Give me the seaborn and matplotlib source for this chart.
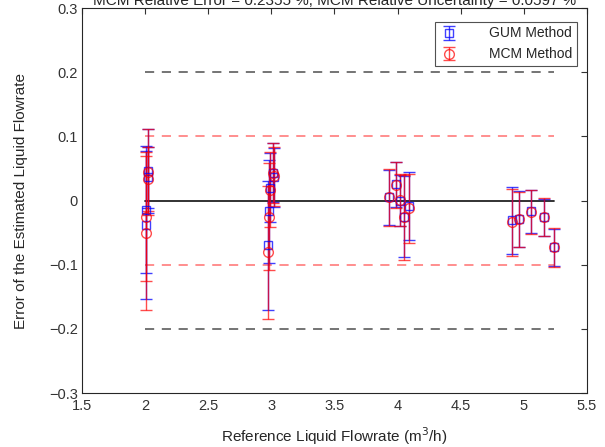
import numpy as np
import pandas as pd
import matplotlib
matplotlib.use("Agg")
import matplotlib.pyplot as plt
import seaborn as sns

# ---- data ----
ref_flow = [2.02, 2.02, 2.01, 2.01,
            2.97, 2.98, 2.99, 3.01, 3.02,
            3.93, 3.99, 4.02, 4.05, 4.09,
            4.91, 4.96, 5.06, 5.16, 5.24]
gum_err = [0.046, 0.036, -0.014, -0.038,
           -0.070, -0.017, 0.020, 0.043, 0.036,
           0.005, 0.025, 0.000, -0.025, -0.009,
           -0.031, -0.029, -0.017, -0.026, -0.073]
gum_unc = [0.065, 0.047, 0.099, 0.115,
           0.100, 0.080, 0.054, 0.046, 0.046,
           0.043, 0.035, 0.040, 0.063, 0.053,
           0.052, 0.044, 0.033, 0.029, 0.029]
mcm_err = [0.044, 0.034, -0.025, -0.050,
           -0.081, -0.025, 0.017, 0.043, 0.038,
           0.005, 0.024, 0.001, -0.026, -0.012,
           -0.034, -0.029, -0.018, -0.026, -0.073]
mcm_unc = [0.067, 0.050, 0.101, 0.120,
           0.103, 0.083, 0.058, 0.047, 0.046,
           0.044, 0.036, 0.041, 0.066, 0.054,
           0.052, 0.043, 0.034, 0.030, 0.030]
line_x = [2.0, 5.24]
zero_line = [0.0, 0.0]
inner_limit = 0.1
outer_limit = 0.2
title_text = "MCM Relative Error = 0.2355 %, MCM Relative Uncertainty = 0.0597 %"

sns.set_theme(style="white")
plt.rcParams['font.family'] = ['Liberation Sans', 'DejaVu Sans']
plt.rcParams['axes.unicode_minus'] = True

fig = plt.figure(figsize=(6.05, 4.47), dpi=100)
ax = fig.add_axes([0.1355, 0.1208, 0.8345, 0.8612])

df_lines = pd.DataFrame({"x": line_x, "y": zero_line})
sns.lineplot(data=df_lines, x="x", y="y", ax=ax, color="#222222", lw=1.3)
for s in (1, -1):
    sns.lineplot(x=line_x, y=[s * inner_limit] * 2, ax=ax, color="#ff4040",
                 alpha=0.75, lw=1.1, linestyle=(0, (6, 5)))
    sns.lineplot(x=line_x, y=[s * outer_limit] * 2, ax=ax, color="#222222",
                 alpha=0.8, lw=1.1, linestyle=(0, (6, 5)))

g = ax.errorbar(ref_flow, gum_err, yerr=gum_unc, fmt='s', color='blue',
                mfc='none', mec='blue', ms=5.5, mew=1.0, capsize=4.3,
                elinewidth=1.0, alpha=0.75, label='GUM Method')
m = ax.errorbar(ref_flow, mcm_err, yerr=mcm_unc, fmt='o', color='red',
                mfc='none', mec='red', ms=7, mew=1.0, capsize=4.3,
                elinewidth=1.0, alpha=0.7, label='MCM Method')

ax.set_xlim(1.5, 5.5)
ax.set_ylim(-0.3, 0.3)
ax.set_xticks(np.arange(1.5, 5.51, 0.5))
ax.set_yticks(np.arange(-0.3, 0.31, 0.1))
ax.set_xticklabels(["1.5", "2", "2.5", "3", "3.5", "4", "4.5", "5", "5.5"])
ax.set_yticklabels(["\u22120.3", "\u22120.2", "\u22120.1", "0", "0.1", "0.2", "0.3"])
ax.tick_params(direction='in', length=4, width=0.8, top=True, right=True,
               colors='#333333', labelsize=10.5, pad=3)
ax.tick_params(axis='x', pad=4)
for sp in ax.spines.values():
    sp.set_color('#262626')
    sp.set_linewidth(0.8)

ax.set_xlabel("Reference Liquid Flowrate (m$^3$/h)", fontsize=11, color='#262626', labelpad=9)
ax.set_ylabel("Error of the Estimated Liquid Flowrate", fontsize=11, color='#262626', labelpad=15)

leg = ax.legend(handles=[g, m], loc='upper right', fontsize=10, frameon=True,
                fancybox=False, edgecolor='#262626', borderpad=0.3,
                handlelength=1.4, handletextpad=2.2, borderaxespad=0,
                bbox_to_anchor=(0.98, 0.963))
leg.get_frame().set_linewidth(0.8)

fig.text(0.553, 1 - 5 / 447, title_text, ha='center', va='baseline',
         fontsize=11, color='#262626')

fig.savefig("out.png", dpi=100)
